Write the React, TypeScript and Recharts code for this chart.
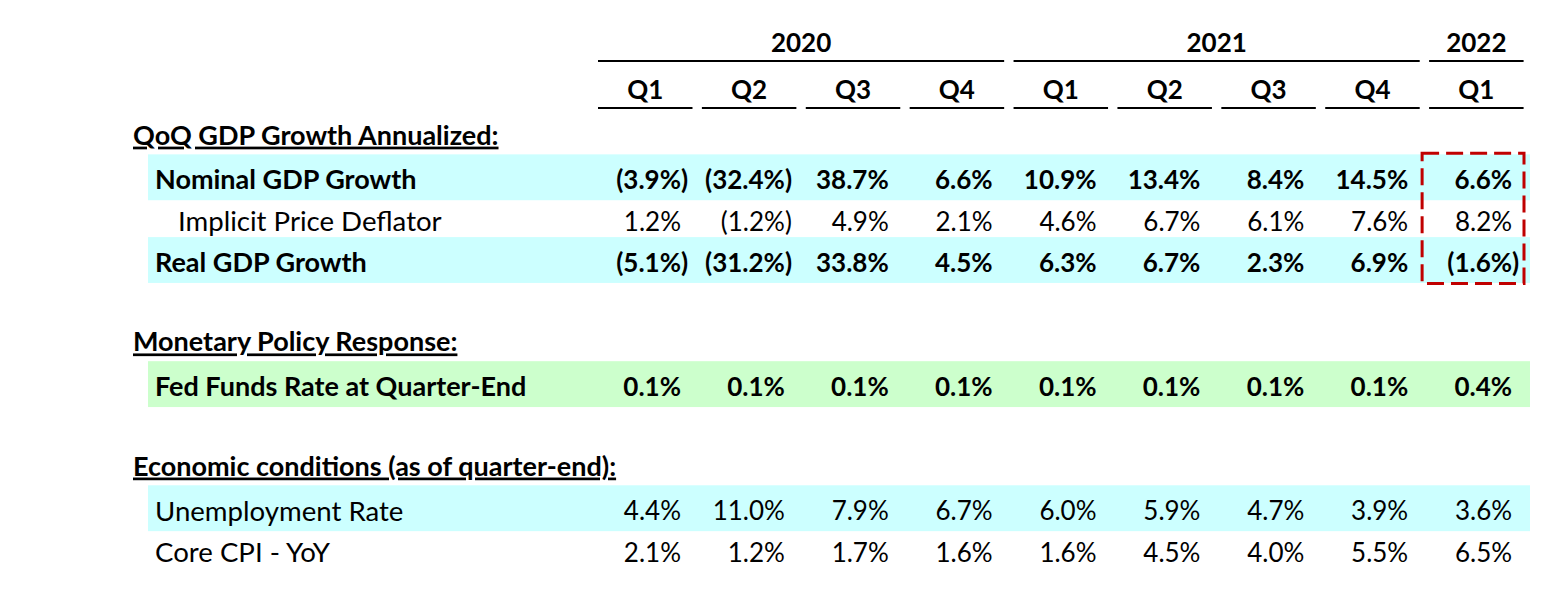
import React from "react";
import { ReferenceArea, Scatter, ScatterChart, XAxis, YAxis } from "recharts";

// column headers
const years = ["2020", "2021", "2022"];
const quartersPerYear = [4, 4, 1];
const quarters = ["Q1", "Q2", "Q3", "Q4", "Q1", "Q2", "Q3", "Q4", "Q1"];

// row labels, top to bottom ("" = spacer row)
const rowLabels = [
  "QoQ GDP Growth Annualized:",
  "Nominal GDP Growth",
  "Implicit Price Deflator",
  "Real GDP Growth",
  "",
  "Monetary Policy Response:",
  "Fed Funds Rate at Quarter-End",
  "",
  "Economic conditions (as of quarter-end):",
  "Unemployment Rate",
  "Core CPI - YoY",
];
const rowKinds = ["header", "bold", "sub", "bold", "blank", "header", "bold", "blank", "header", "plain", "plain"];

// values in %, per quarter
const nominalGdp = [-3.9, -32.4, 38.7, 6.6, 10.9, 13.4, 8.4, 14.5, 6.6];
const priceDeflator = [1.2, -1.2, 4.9, 2.1, 4.6, 6.7, 6.1, 7.6, 8.2];
const realGdp = [-5.1, -31.2, 33.8, 4.5, 6.3, 6.7, 2.3, 6.9, -1.6];
const fedFunds = [0.1, 0.1, 0.1, 0.1, 0.1, 0.1, 0.1, 0.1, 0.4];
const unemployment = [4.4, 11.0, 7.9, 6.7, 6.0, 5.9, 4.7, 3.9, 3.6];
const coreCpi = [2.1, 1.2, 1.7, 1.6, 1.6, 4.5, 4.0, 5.5, 6.5];

const cyanRows = ["Nominal GDP Growth", "Real GDP Growth", "Unemployment Rate"];
const greenRows = ["Fed Funds Rate at Quarter-End"];
const highlightRows = ["Nominal GDP Growth", "Real GDP Growth"];

const series = [
  { label: "Nominal GDP Growth", values: nominalGdp },
  { label: "Implicit Price Deflator", values: priceDeflator },
  { label: "Real GDP Growth", values: realGdp },
  { label: "Fed Funds Rate at Quarter-End", values: fedFunds },
  { label: "Unemployment Rate", values: unemployment },
  { label: "Core CPI - YoY", values: coreCpi },
];

const W = 1564;
const H = 593;
const MARGIN = { top: 0, right: 31, bottom: 20, left: 0 };
const Y_AXIS_W = 598;
const X_AXIS_H = 118;
const UNIT = (W - MARGIN.left - MARGIN.right - Y_AXIS_W) / quarters.length;
const GAP = 9.4;
const FONT = "Lato, 'Open Sans', sans-serif";
const FS = 26;
const LABEL_FS = 27.6;
const LABEL_FS_BOLD = 27;
const BASE = FS * 0.36;
const BAND_LEFT = 148;

const yearStarts = quartersPerYear.map((_, i) => quartersPerYear.slice(0, i).reduce((a, b) => a + b, 0));

function QuarterTick(props: any) {
  const { x, y, index } = props;
  const left = x - UNIT / 2;
  const right = left + UNIT - GAP;
  const yi = yearStarts.indexOf(index);
  let year = null;
  if (yi >= 0) {
    const yr = left + (quartersPerYear[yi] - 1) * UNIT + UNIT - GAP;
    year = (
      <g>
        <text x={(left + yr) / 2} y={y - 75 + BASE} textAnchor="middle" fontFamily={FONT} fontSize={FS} fontWeight={700} fill="#000">
          {years[yi]}
        </text>
        <line x1={left} x2={yr} y1={y - 57} y2={y - 57} stroke="#000" strokeWidth={2} />
      </g>
    );
  }
  return (
    <g>
      {year}
      <text x={(left + right) / 2} y={y - 28 + BASE} textAnchor="middle" fontFamily={FONT} fontSize={FS} fontWeight={700} fill="#000">
        {quarters[index]}
      </text>
      <line x1={left} x2={right} y1={y - 10} y2={y - 10} stroke="#000" strokeWidth={2} />
    </g>
  );
}

function RowLabel(props: any) {
  const { y, payload } = props;
  const r = payload.value as number;
  const kind = rowKinds[r];
  if (!kind || kind === "blank") return <g />;
  const x = kind === "header" ? 133 : kind === "sub" ? 178 : 155;
  const dy = kind === "header" ? -3.5 : 0;
  const bold = kind === "header" || kind === "bold";
  const fs = bold ? LABEL_FS_BOLD : LABEL_FS;
  return (
    <text
      x={x}
      y={y + dy + fs * 0.35}
      fontFamily={FONT}
      fontSize={fs}
      fontWeight={bold ? 700 : 400}
      textDecoration={kind === "header" ? "underline" : undefined}
      fill="#000"
    >
      {rowLabels[r]}
    </text>
  );
}

function ValueCell(props: any) {
  const { cx, cy, payload } = props;
  const v = payload.value as number;
  const bold = rowKinds[payload.row] === "bold";
  const xr = cx + 83;
  const txt = `${Math.abs(v).toFixed(1)}%`;
  const common = { fontFamily: FONT, fontSize: FS, fontWeight: bold ? 700 : 400, fill: "#000" };
  return (
    <g>
      <text x={xr} y={cy + BASE} textAnchor="end" {...common}>
        {v < 0 ? `(${txt}` : txt}
      </text>
      {v < 0 && (
        <text x={xr} y={cy + BASE} textAnchor="start" {...common}>
          )
        </text>
      )}
    </g>
  );
}

const bandShape = (fill: string) => (p: any) => (
  <rect x={BAND_LEFT} y={p.y - 5} width={p.x + p.width - 3 - BAND_LEFT} height={p.height + 4.5} fill={fill} />
);

const boxShape = (p: any) => (
  <rect
    x={p.x - 7}
    y={p.y - 6}
    width={p.width - 2}
    height={p.height + 6}
    fill="none"
    stroke="#C00000"
    strokeWidth={3}
    strokeDasharray="17 7"
  />
);

export default function App() {
  const rowIdx = (label: string) => rowLabels.indexOf(label);
  const lastCol = quarters.length - 1;
  return (
    <div style={{ position: "absolute", left: 0, top: 0, width: W, height: H, background: "#fff" }}>
      <ScatterChart width={W} height={H} margin={MARGIN}>
        {cyanRows.map((l) => (
          <ReferenceArea key={l} y1={rowIdx(l) - 0.5} y2={rowIdx(l) + 0.5} shape={bandShape("#CCFFFF")} ifOverflow="visible" />
        ))}
        {greenRows.map((l) => (
          <ReferenceArea key={l} y1={rowIdx(l) - 0.5} y2={rowIdx(l) + 0.5} shape={bandShape("#CCFFCC")} ifOverflow="visible" />
        ))}
        <ReferenceArea
          x1={lastCol}
          x2={lastCol + 1}
          y1={rowIdx(highlightRows[0]) - 0.5}
          y2={rowIdx(highlightRows[1]) + 0.5}
          shape={boxShape}
          ifOverflow="visible"
        />
        <XAxis
          type="number"
          dataKey="col"
          orientation="top"
          domain={[0, quarters.length]}
          ticks={quarters.map((_, i) => i + 0.5)}
          interval={0}
          height={X_AXIS_H}
          axisLine={false}
          tickLine={false}
          tickSize={0}
          tickMargin={0}
          tick={<QuarterTick />}
          allowDataOverflow
        />
        <YAxis
          type="number"
          dataKey="row"
          domain={[-0.5, rowLabels.length - 0.5]}
          ticks={rowLabels.map((_, i) => i)}
          interval={0}
          reversed
          width={Y_AXIS_W}
          axisLine={false}
          tickLine={false}
          tickSize={0}
          tickMargin={0}
          tick={<RowLabel />}
          allowDataOverflow
        />
        {series.map((s) => (
          <Scatter
            key={s.label}
            name={s.label}
            data={s.values.map((v, i) => ({ col: i, row: rowIdx(s.label), value: v }))}
            shape={(p: any) => <ValueCell {...p} />}
            isAnimationActive={false}
          />
        ))}
      </ScatterChart>
    </div>
  );
}
